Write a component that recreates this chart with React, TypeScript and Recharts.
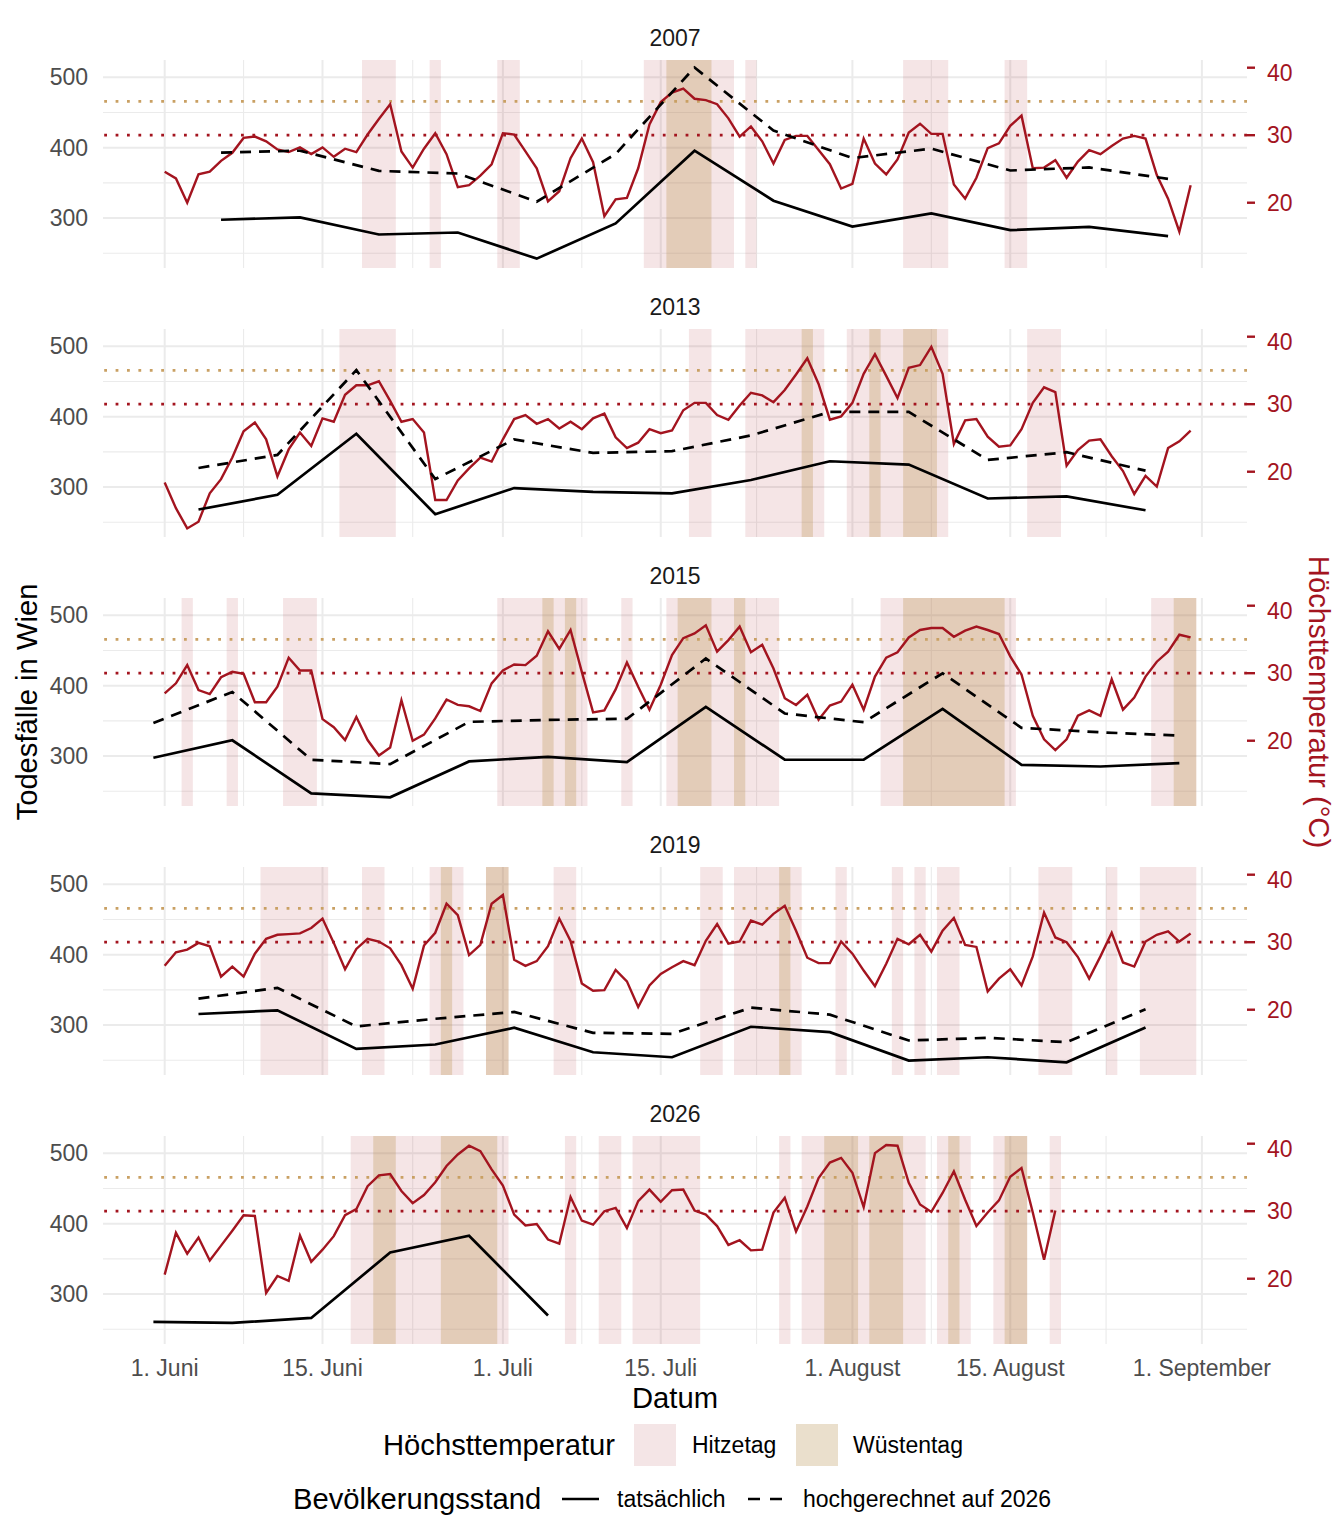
import React from 'react'
import {
  ComposedChart,
  Line,
  XAxis,
  YAxis,
  CartesianGrid,
  ReferenceArea,
  ReferenceLine,
} from 'recharts'

const FONT = '"Liberation Sans", Arial, Helvetica, sans-serif'
const RED = '#a3141f'
const GOLD = '#c9a063'
const GRID = '#ebebeb'
const TITLE_SIZE = 29.2

const years = ['2007', '2013', '2015', '2019', '2026']

// x axis: day number, 0 = 1. Juni
const dateTicks = [0, 14, 30, 44, 61, 75, 92]
const dateLabels = ['1. Juni', '15. Juni', '1. Juli', '15. Juli', '1. August', '15. August', '1. September']
const dateMinor = [7, 22, 37, 52.5, 68, 83.5]
const deathTicks = [300, 400, 500]
const deathMinor = [250, 350, 450]
const tempTicks = [20, 30, 40]

// daily maximum temperature (°C), from 1. Juni
const temp2007 = [
  24.6, 23.6, 20.0, 24.2, 24.6, 26.2, 27.4, 29.6, 29.8, 29.1,
  27.9, 27.5, 28.2, 27.2, 28.2, 26.8, 28.0, 27.5, 30.1, 32.4,
  34.6, 27.6, 25.2, 28.0, 30.3, 27.2, 22.3, 22.6, 24.0, 25.7,
  30.3, 30.1, 27.6, 25.1, 20.2, 21.7, 26.6, 29.5, 26.0, 18.0,
  20.5, 20.7, 25.1, 31.6, 34.9, 36.3, 36.9, 35.4, 35.2, 34.6,
  32.5, 29.8, 31.3, 29.1, 25.8, 29.3, 29.9, 29.9, 27.8, 25.7,
  22.1, 22.8, 29.5, 25.8, 24.2, 26.4, 30.4, 31.7, 30.2, 30.2,
  22.7, 20.6, 23.7, 28.1, 28.8, 31.4, 32.9, 25.1, 25.2, 26.3,
  23.7, 26.1, 27.8, 27.2, 28.4, 29.5, 29.9, 29.5, 24.1, 20.6,
  15.7, 22.6,
]
const temp2013 = [
  18.4, 14.6, 11.6, 12.6, 16.8, 18.9, 22.1, 26.0, 27.3, 24.8,
  19.3, 23.3, 25.8, 23.8, 27.9, 27.4, 31.4, 32.8, 32.8, 33.4,
  30.5, 27.4, 27.8, 25.8, 15.8, 15.8, 18.7, 20.5, 22.1, 21.5,
  24.8, 27.8, 28.4, 27.1, 27.8, 26.4, 27.4, 26.3, 27.9, 28.6,
  25.1, 23.5, 24.3, 26.3, 25.7, 26.1, 29.1, 30.2, 30.2, 28.4,
  27.7, 29.8, 31.7, 31.3, 30.3, 32.1, 34.4, 36.8, 33.0, 27.7,
  28.2, 30.2, 34.5, 37.4, 34.2, 30.9, 35.4, 35.8, 38.5, 34.5,
  24.1, 27.6, 27.8, 25.2, 23.7, 23.9, 26.3, 30.2, 32.5, 31.8,
  20.9, 23.2, 24.6, 24.8, 22.3, 20.1, 16.7, 19.4, 17.8, 23.5,
  24.5, 26.1,
]
const temp2015 = [
  27.0, 28.5, 31.2, 27.5, 26.9, 29.4, 30.2, 29.9, 25.7, 25.7,
  28.0, 32.3, 30.4, 30.4, 23.2, 22.0, 20.1, 23.5, 20.1, 17.8,
  19.0, 26.0, 20.0, 20.9, 23.3, 26.1, 25.3, 25.1, 24.4, 28.5,
  30.4, 31.3, 31.2, 32.6, 36.2, 33.6, 36.4, 30.2, 24.2, 24.5,
  27.6, 31.6, 28.0, 24.6, 28.3, 32.7, 35.2, 35.9, 37.1, 33.2,
  34.9, 36.9, 33.1, 34.2, 30.7, 26.3, 25.3, 26.8, 23.1, 25.2,
  25.8, 28.3, 24.6, 29.5, 32.3, 33.1, 35.3, 36.4, 36.7, 36.7,
  35.4, 36.3, 36.9, 36.4, 35.8, 32.5, 29.8, 23.7, 20.2, 18.6,
  20.2, 23.7, 24.5, 23.7, 29.1, 24.6, 26.4, 29.5, 31.7, 33.2,
  35.7, 35.3,
]
const temp2019 = [
  26.5, 28.5, 28.9, 29.9, 29.4, 24.9, 26.4, 24.9, 28.3, 30.5,
  31.1, 31.2, 31.3, 32.1, 33.5, 29.9, 26.0, 29.0, 30.5, 30.1,
  29.1, 26.6, 23.1, 29.5, 31.4, 35.7, 34.0, 28.1, 29.6, 35.7,
  37.0, 27.4, 26.5, 27.2, 29.4, 33.5, 30.2, 23.9, 22.8, 22.9,
  25.9, 24.2, 20.4, 23.6, 25.3, 26.3, 27.2, 26.6, 30.2, 32.7,
  29.8, 30.1, 33.2, 32.6, 34.2, 35.4, 31.7, 27.7, 26.9, 26.9,
  30.1, 28.3, 25.8, 23.5, 26.8, 30.5, 29.7, 31.1, 28.6, 31.7,
  33.6, 29.6, 29.3, 22.7, 24.6, 26.0, 23.6, 27.9, 34.4, 30.7,
  30.0, 27.8, 24.6, 27.9, 31.4, 27.0, 26.4, 30.1, 31.1, 31.6,
  30.1, 31.3,
]
const temp2026 = [
  20.6, 26.8, 23.7, 26.1, 22.7, 24.9, 27.1, 29.4, 29.3, 17.9,
  20.4, 19.7, 26.4, 22.5, 24.3, 26.3, 29.4, 30.3, 33.7, 35.3,
  35.5, 33.0, 31.2, 32.4, 34.3, 36.7, 38.4, 39.7, 38.9, 36.2,
  33.8, 29.5, 27.9, 28.1, 25.8, 25.2, 32.1, 28.6, 28.0, 30.0,
  30.5, 27.5, 31.5, 33.2, 31.4, 33.1, 33.2, 30.1, 29.5, 27.8,
  25.0, 25.7, 24.2, 24.3, 29.8, 32.0, 27.0, 30.7, 34.9, 37.2,
  37.9, 35.7, 30.6, 38.6, 39.8, 39.7, 34.2, 31.0, 29.9, 32.7,
  35.9, 31.7, 27.8, 29.8, 31.6, 35.1, 36.4, 29.8, 22.8, 30.1,
]

// weekly deaths, first week day per year, then every 7 days
const weekStart = [5, 3, -1, 3, -1]
const actual2007 = [297.6, 301, 276.7, 279.5, 242.4, 292.4, 395.7, 324.7, 288, 306.7, 282.9, 287.6, 274.3]
const projected2007 = [392.9, 395.7, 367, 363.3, 323.3, 391, 513.8, 424.3, 385.2, 398.6, 367.6, 371.9, 355.7]
const actual2013 = [268.1, 289, 375.7, 261.4, 298.6, 293.3, 291, 310, 336.7, 331.9, 283.8, 286.7, 267.1]
const projected2013 = [327.1, 345.7, 466.2, 311.4, 367.6, 348.6, 351, 373.3, 406.7, 406.7, 338.6, 349.5, 323.3]
const actual2015 = [297.6, 322.4, 247.1, 241.4, 292.4, 299, 291.4, 370, 294.8, 294.8, 367.1, 287.6, 285.2, 290]
const projected2015 = [347.1, 391, 294.8, 288.6, 348.6, 351.4, 352.9, 438.6, 360.5, 348.1, 417.6, 340, 333.8, 329]
const actual2019 = [315.7, 321, 266.1, 272.4, 296.2, 261.4, 254.3, 297.6, 290, 249.5, 254.3, 247.1, 296.7]
const projected2019 = [337.6, 352.9, 298.1, 309, 318.6, 289, 287.6, 324.7, 314.8, 278.1, 281.9, 275.7, 322.4]
const actual2026 = [260.4, 259, 266.1, 359, 382.9, 269.6]
const projected2026: number[] = []

// runs of Hitzetage (>= 30 °C) and Wüstentage (>= 35 °C), [first day, last day]
const hot2007 = [[18, 20], [24, 24], [30, 31], [43, 50], [52, 52], [66, 69], [75, 76]]
const desert2007 = [[45, 48]]
const hot2013 = [[16, 20], [47, 48], [52, 58], [61, 69], [77, 79]]
const desert2013 = [[57, 57], [63, 63], [66, 68]]
const hot2015 = [[2, 2], [6, 6], [11, 13], [30, 37], [41, 41], [45, 54], [64, 75], [88, 91]]
const desert2015 = [[34, 34], [36, 36], [46, 48], [51, 51], [66, 74], [90, 91]]
const hot2019 = [[9, 14], [18, 19], [24, 26], [29, 30], [35, 36], [48, 49], [51, 56], [60, 60], [65, 65], [67, 67], [69, 70], [78, 80], [84, 84], [87, 91]]
const desert2019 = [[25, 25], [29, 30], [55, 55]]
const hot2026 = [[17, 30], [36, 36], [39, 40], [42, 47], [55, 55], [57, 67], [69, 71], [74, 76], [79, 79]]
const desert2026 = [[19, 20], [25, 29], [59, 61], [63, 65], [70, 70], [75, 76]]

const temps = [temp2007, temp2013, temp2015, temp2019, temp2026]
const actuals = [actual2007, actual2013, actual2015, actual2019, actual2026]
const projections = [projected2007, projected2013, projected2015, projected2019, projected2026]
const hots = [hot2007, hot2013, hot2015, hot2019, hot2026]
const deserts = [desert2007, desert2013, desert2015, desert2019, desert2026]

const PANEL_TOP = 60
const PANEL_STEP = 269
const PANEL_H = 208

const dotted = { strokeWidth: 2.7, strokeDasharray: '2.8 8.6' }

function Panel({ i }: { i: number }) {
  const last = i === years.length - 1
  const tempData = temps[i].map((t, d) => ({ day: d, temp: t }))
  const actualData = actuals[i].map((v, k) => ({ day: weekStart[i] + 7 * k, deaths: v }))
  const projData = projections[i].map((v, k) => ({ day: weekStart[i] + 7 * k, deaths: v }))

  return (
    <div style={{ position: 'absolute', left: 0, top: PANEL_TOP + i * PANEL_STEP }}>
      <ComposedChart
        width={1344}
        height={last ? PANEL_H + 50 : PANEL_H}
        margin={{ top: 0, right: 0, bottom: 0, left: 0 }}
      >
        <XAxis
          xAxisId="x"
          type="number"
          dataKey="day"
          domain={[-5.47, 96]}
          allowDataOverflow
          ticks={dateTicks}
          interval={0}
          tickFormatter={(v) => dateLabels[dateTicks.indexOf(v)] ?? ''}
          hide={!last}
          height={50}
          axisLine={false}
          tickLine={false}
          tickSize={0}
          tickMargin={16}
          tick={{ fill: '#4d4d4d', fontSize: 23, fontFamily: FONT }}
        />
        <YAxis
          yAxisId="d"
          domain={[229.1, 524.5]}
          allowDataOverflow
          ticks={deathTicks}
          width={103}
          axisLine={false}
          tickLine={false}
          tickSize={0}
          tickMargin={15}
          tick={{ fill: '#4d4d4d', fontSize: 23, fontFamily: FONT }}
        />
        <YAxis
          yAxisId="t"
          orientation="right"
          domain={[10.33, 41.14]}
          allowDataOverflow
          ticks={tempTicks}
          width={97}
          axisLine={false}
          tickLine={{ stroke: RED, strokeWidth: 2.4 }}
          tickSize={8}
          tickMargin={12}
          tick={{ fill: RED, fontSize: 23, fontFamily: FONT }}
        />
        <CartesianGrid
          xAxisId="x"
          yAxisId="d"
          horizontalValues={deathMinor}
          verticalValues={dateMinor}
          stroke={GRID}
          strokeWidth={1.1}
        />
        <CartesianGrid
          xAxisId="x"
          yAxisId="d"
          horizontalValues={deathTicks}
          verticalValues={dateTicks}
          stroke={GRID}
          strokeWidth={2}
        />
        {hots[i].map(([a, b]) => (
          <ReferenceArea
            key={`h${a}`}
            xAxisId="x"
            yAxisId="d"
            x1={a - 0.5}
            x2={b + 0.5}
            fill={RED}
            fillOpacity={0.11}
            stroke="none"
          />
        ))}
        {deserts[i].map(([a, b]) => (
          <ReferenceArea
            key={`w${a}`}
            xAxisId="x"
            yAxisId="d"
            x1={a - 0.5}
            x2={b + 0.5}
            fill="#b8914f"
            fillOpacity={0.3}
            stroke="none"
          />
        ))}
        <ReferenceLine xAxisId="x" yAxisId="t" y={35} stroke={GOLD} {...dotted} />
        <ReferenceLine xAxisId="x" yAxisId="t" y={30} stroke={RED} {...dotted} />
        <Line
          xAxisId="x"
          yAxisId="t"
          data={tempData}
          dataKey="temp"
          stroke={RED}
          strokeWidth={2.4}
          dot={false}
          activeDot={false}
          isAnimationActive={false}
        />
        {projData.length > 0 && (
          <Line
            xAxisId="x"
            yAxisId="d"
            data={projData}
            dataKey="deaths"
            stroke="#000"
            strokeWidth={2.7}
            strokeDasharray="11 8"
            dot={false}
            activeDot={false}
            isAnimationActive={false}
          />
        )}
        <Line
          xAxisId="x"
          yAxisId="d"
          data={actualData}
          dataKey="deaths"
          stroke="#000"
          strokeWidth={2.7}
          dot={false}
          activeDot={false}
          isAnimationActive={false}
        />
      </ComposedChart>
    </div>
  )
}

const abs = (s: React.CSSProperties): React.CSSProperties => ({ position: 'absolute', whiteSpace: 'nowrap', ...s })

export default function App() {
  return (
    <div
      style={{
        position: 'absolute',
        left: 0,
        top: 0,
        width: 1344,
        height: 1536,
        background: '#fff',
        fontFamily: FONT,
        overflow: 'hidden',
      }}
    >
      {years.map((y, i) => (
        <div
          key={`t${y}`}
          style={abs({
            left: 675,
            top: 38 + i * PANEL_STEP,
            transform: 'translate(-50%, -50%)',
            fontSize: 23,
            color: '#1a1a1a',
          })}
        >
          {y}
        </div>
      ))}
      {years.map((y, i) => (
        <Panel key={y} i={i} />
      ))}

      <div style={abs({ left: 27, top: 702, transform: 'translate(-50%, -50%) rotate(-90deg)', fontSize: TITLE_SIZE, color: '#000' })}>
        Todesfälle in Wien
      </div>
      <div style={abs({ left: 1318, top: 702, transform: 'translate(-50%, -50%) rotate(90deg)', fontSize: TITLE_SIZE, color: RED })}>
        Höchsttemperatur (°C)
      </div>
      <div style={abs({ left: 675, top: 1398, transform: 'translate(-50%, -50%)', fontSize: TITLE_SIZE, color: '#000' })}>
        Datum
      </div>

      {/* legend: Höchsttemperatur */}
      <div style={abs({ left: 383, top: 1445, transform: 'translateY(-50%)', fontSize: TITLE_SIZE, color: '#000' })}>
        Höchsttemperatur
      </div>
      <div style={abs({ left: 634, top: 1424, width: 42, height: 42, background: '#f4e5e6' })} />
      <div style={abs({ left: 692, top: 1445, transform: 'translateY(-50%)', fontSize: 23, color: '#000' })}>
        Hitzetag
      </div>
      <div style={abs({ left: 796, top: 1424, width: 42, height: 42, background: '#eadfcc' })} />
      <div style={abs({ left: 853, top: 1445, transform: 'translateY(-50%)', fontSize: 23, color: '#000' })}>
        Wüstentag
      </div>

      {/* legend: Bevölkerungsstand */}
      <div style={abs({ left: 293, top: 1499, transform: 'translateY(-50%)', fontSize: TITLE_SIZE, color: '#000' })}>
        Bevölkerungsstand
      </div>
      <svg style={abs({ left: 555, top: 1489 })} width={240} height={20}>
        <line x1={7} y1={10} x2={44} y2={10} stroke="#000" strokeWidth={2.7} />
        <line x1={193} y1={10} x2={227} y2={10} stroke="#000" strokeWidth={2.7} strokeDasharray="12 10" />
      </svg>
      <div style={abs({ left: 617, top: 1499, transform: 'translateY(-50%)', fontSize: 23, color: '#000' })}>
        tatsächlich
      </div>
      <div style={abs({ left: 803, top: 1499, transform: 'translateY(-50%)', fontSize: 23, color: '#000' })}>
        hochgerechnet auf 2026
      </div>
    </div>
  )
}
